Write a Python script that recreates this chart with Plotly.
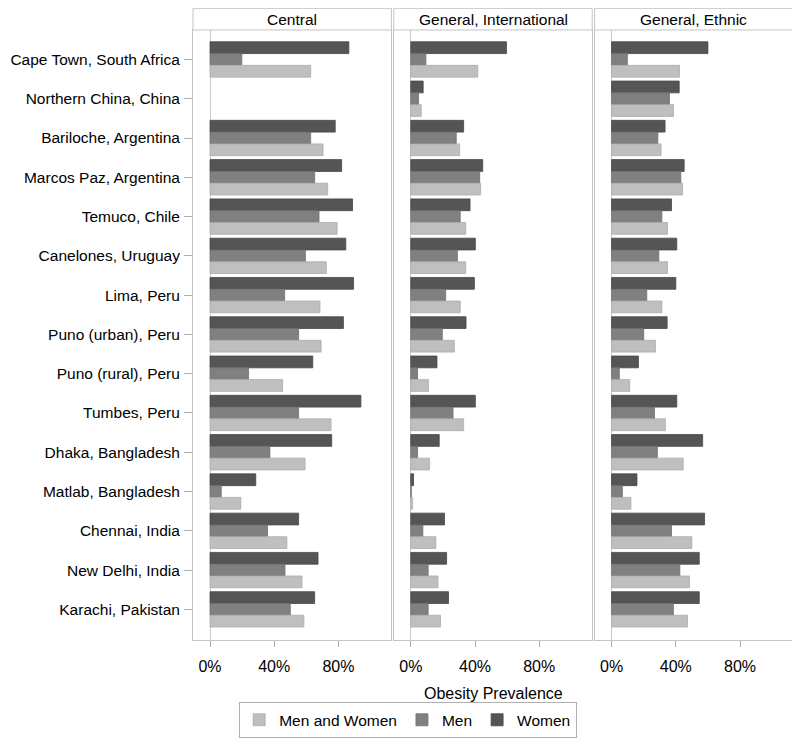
import plotly.graph_objects as go
from plotly.subplots import make_subplots

sites = ["Cape Town, South Africa", "Northern China, China", "Bariloche, Argentina",
         "Marcos Paz, Argentina", "Temuco, Chile", "Canelones, Uruguay", "Lima, Peru",
         "Puno (urban), Peru", "Puno (rural), Peru", "Tumbes, Peru", "Dhaka, Bangladesh",
         "Matlab, Bangladesh", "Chennai, India", "New Delhi, India", "Karachi, Pakistan"]
panels = ["Central", "General, International", "General, Ethnic"]

# obesity prevalence (%), one list per panel and group
central_women = [86.5, None, 78.0, 82.0, 88.8, 84.6, 89.4, 83.1, 64.0, 94.0, 75.8, 28.5, 55.2, 67.3, 65.2]
central_men = [19.8, None, 62.7, 65.2, 67.9, 59.4, 46.5, 55.2, 24.0, 55.2, 37.3, 7.0, 35.8, 46.7, 50.0]
central_all = [62.7, None, 70.4, 73.3, 79.2, 72.5, 68.5, 69.2, 45.2, 75.4, 59.2, 19.2, 47.9, 57.3, 58.5]

intl_women = [59.6, 7.7, 32.9, 44.8, 36.9, 40.2, 39.6, 34.4, 16.3, 40.2, 17.7, 1.7, 21.0, 22.3, 23.5]
intl_men = [9.4, 4.8, 28.3, 42.9, 30.8, 29.0, 21.7, 19.6, 4.2, 26.3, 4.2, 0.3, 7.5, 10.8, 10.8]
intl_all = [41.7, 6.5, 30.4, 43.5, 34.2, 34.2, 30.8, 27.1, 11.0, 32.9, 11.7, 1.0, 15.6, 16.9, 18.5]

ethnic_women = [60.0, 42.1, 33.3, 45.2, 37.3, 40.6, 40.0, 34.6, 16.7, 40.6, 56.7, 15.8, 57.9, 54.6, 54.6]
ethnic_men = [9.8, 36.0, 28.8, 43.1, 31.3, 29.4, 21.9, 20.0, 4.8, 26.7, 28.5, 6.7, 37.3, 42.5, 38.5]
ethnic_all = [42.3, 38.5, 30.8, 44.2, 34.8, 34.8, 31.3, 27.3, 11.3, 33.5, 44.6, 12.0, 50.0, 48.5, 47.3]

panel_data = [
    (central_women, central_men, central_all),
    (intl_women, intl_men, intl_all),
    (ethnic_women, ethnic_men, ethnic_all),
]
groups = ["Women", "Men", "Men and Women"]
fills = ["#555555", "#808080", "#bfbfbf"]
edges = ["#474747", "#707070", "#acacac"]
ranks = [3, 2, 1]

font = "Arial, Liberation Sans, sans-serif"
frame = "#c4c4c4"

fig = make_subplots(rows=1, cols=3, shared_yaxes=True, horizontal_spacing=0.004)

for c, vals in enumerate(panel_data):
    for g in range(3):
        fig.add_trace(go.Bar(
            y=sites, x=vals[g], orientation='h',
            name=groups[g], legendgroup=groups[g], legendrank=ranks[g],
            showlegend=(c == 0),
            marker=dict(color=fills[g], line=dict(color=edges[g], width=0.8)),
            error_x=dict(type='data', value=3, color='#d6d6d6', thickness=1, width=2),
        ), 1, c + 1)

fig.update_xaxes(
    range=[-10.6, 113], tickvals=[0, 40, 80], ticktext=["0%", "40%", "80%"],
    ticks='outside', ticklen=6, tickcolor='#b0b0b0', automargin=False,
    ticklabelstandoff=6,
    showgrid=False, zeroline=True, zerolinecolor='#c8c8c8', zerolinewidth=1,
    showline=True, mirror=True, linecolor=frame, linewidth=1,
    tickfont=dict(size=16, color='#000000'),
)
fig.update_yaxes(
    categoryorder='array', categoryarray=sites, range=[14.78, -0.75],
    showgrid=False, showline=True, mirror=True, linecolor=frame, linewidth=1,
    ticks='', automargin=False, tickfont=dict(size=15.5, color='#000000'),
)
fig.update_yaxes(ticks='outside', ticklen=8, tickcolor='#b0b0b0',
                 ticklabelstandoff=1, row=1, col=1)

# page body has an 8px margin, so the figure is shrunk and shifted to compensate
plot_h = 737 - 22 - 97
strip = 22 / plot_h
for c, title in enumerate(panels):
    dom = fig.layout['xaxis' if c == 0 else 'xaxis%d' % (c + 1)].domain
    fig.add_shape(type='rect', xref='paper', yref='paper',
                  x0=dom[0], x1=dom[1], y0=1, y1=1 + strip,
                  line=dict(color=frame, width=1), fillcolor='white')
    fig.add_annotation(text=title, xref='paper', yref='paper',
                       x=(dom[0] + dom[1]) / 2, y=1 + strip / 2,
                       xanchor='center', yanchor='middle',
                       showarrow=False, font=dict(size=15.5, color='#000000'))

fig.add_annotation(text="Obesity Prevalence", xref='paper', yref='paper',
                   x=0.5, y=-0.087, yanchor='middle', showarrow=False,
                   font=dict(size=16, color='#000000'))

fig.update_layout(
    width=792, height=737,
    margin=dict(l=185, r=7, t=22, b=97),
    barmode='group', bargap=0.1, bargroupgap=0,
    plot_bgcolor='white', paper_bgcolor='white',
    font=dict(family=font, size=15, color='#000000'),
    legend=dict(orientation='h', x=0.077, xanchor='left', y=-0.102, yanchor='top',
                bordercolor='#b0b0b0', borderwidth=1, font=dict(size=15.5),
                itemwidth=30, tracegroupgap=0),
)

fig.write_html("out.html")
